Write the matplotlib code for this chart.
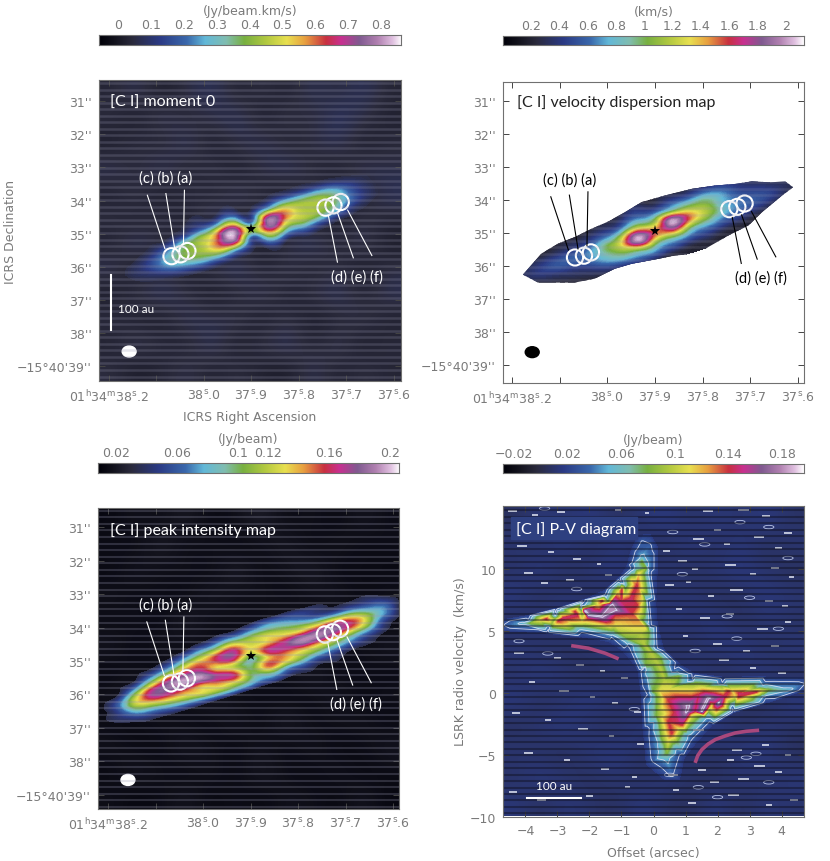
from matplotlib import pyplot as plt
from matplotlib import tri
from matplotlib.colors import LinearSegmentedColormap, Normalize
from matplotlib.patches import Ellipse, Polygon, Rectangle
import numpy as np

W, H = 830, 862
GREY = '#7a7a7a'
plt.rcParams.update({'font.family': 'DejaVu Sans', 'font.size': 9, 'mathtext.default': 'regular',
                     'axes.edgecolor': '#707070', 'text.color': GREY, 'xtick.labelcolor': GREY,
                     'ytick.labelcolor': GREY})

# colour scale
stops = [(0, '#000008'), (.05, '#12121c'), (.11, '#2a2a3c'), (.2, '#2b3a84'), (.29, '#3a68ac'),
         (.35, '#62b8d8'), (.42, '#80bdb0'), (.48, '#78b040'), (.55, '#b0c840'), (.62, '#e8e050'),
         (.68, '#e8a040'), (.75, '#c83040'), (.8, '#c83090'), (.86, '#805a90'), (.92, '#b080b0'),
         (.97, '#e0c0e0'), (1, '#ffffff')]
cmap = LinearSegmentedColormap.from_list('casa_rainbow', stops, N=512)

# disk frame: s along the disk (arcsec), t across it
disk_slope = -0.31
disk_s = np.arange(-4.5, 4.6, 0.5)
disk_t = np.arange(-1.0, 1.01, 0.2)

moment0 = np.array([
    [.03, .03, .03, .03, .03, .03, .03, .03, .03, .03, .03, .03, .03, .03, .03, .03, .03, .03, .03],
    [.03, .03, .03, .03, .04, .05, .06, .06, .05, .04, .06, .07, .07, .06, .05, .04, .03, .03, .03],
    [.03, .03, .03, .04, .05, .07, .11, .14, .13, .06, .14, .20, .18, .17, .12, .07, .05, .03, .03],
    [.03, .03, .04, .06, .08, .15, .24, .34, .35, .12, .38, .42, .38, .36, .27, .13, .06, .03, .03],
    [.03, .03, .05, .09, .18, .32, .42, .58, .66, .20, .70, .58, .45, .44, .36, .18, .08, .04, .03],
    [.03, .04, .07, .14, .27, .38, .45, .62, .80, .40, .74, .58, .47, .43, .36, .20, .09, .04, .03],
    [.03, .04, .08, .15, .28, .38, .43, .58, .70, .22, .58, .46, .42, .38, .28, .14, .07, .04, .03],
    [.03, .03, .06, .10, .20, .28, .34, .40, .38, .13, .32, .28, .25, .20, .13, .08, .05, .03, .03],
    [.03, .03, .04, .06, .09, .14, .18, .18, .14, .07, .12, .11, .10, .08, .05, .04, .03, .03, .03],
    [.03, .03, .03, .03, .04, .05, .06, .06, .05, .04, .04, .04, .03, .03, .03, .03, .03, .03, .03],
    [.03, .03, .03, .03, .03, .03, .03, .03, .03, .03, .03, .03, .03, .03, .03, .03, .03, .03, .03]])

dispersion = np.array([
    [.2, .2, .2, .2, .2, .2, .2, .2, .25, .25, .25, .25, .2, .2, .2, .2, .2, .2, .2],
    [.2, .2, .2, .2, .2, .2, .25, .3, .4, .3, .4, .4, .45, .4, .3, .25, .2, .2, .2],
    [.2, .2, .2, .2, .2, .25, .3, .4, .55, .5, .65, .7, .75, .6, .4, .3, .25, .2, .2],
    [.2, .2, .2, .25, .3, .35, .45, .6, .85, .9, 1.1, 1.05, 1.0, .75, .5, .4, .3, .25, .2],
    [.2, .25, .3, .35, .4, .5, .7, 1.0, 1.35, 1.2, 1.9, 1.45, 1.15, .8, .6, .5, .4, .3, .2],
    [.25, .3, .4, .5, .55, .65, .95, 1.3, 1.95, 1.5, 1.9, 1.5, 1.15, .85, .65, .55, .45, .3, .2],
    [.2, .3, .4, .5, .55, .65, .9, 1.2, 1.85, 1.4, 1.4, 1.1, .9, .7, .55, .45, .35, .25, .2],
    [.2, .25, .3, .35, .4, .5, .75, .95, 1.1, 1.0, .85, .75, .6, .5, .4, .3, .25, .2, .2],
    [.2, .2, .2, .25, .3, .35, .5, .65, .7, .7, .55, .45, .4, .3, .25, .2, .2, .2, .2],
    [.2, .2, .2, .2, .2, .25, .3, .35, .4, .4, .3, .25, .25, .2, .2, .2, .2, .2, .2],
    [.2, .2, .2, .2, .2, .2, .2, .2, .25, .25, .2, .2, .2, .2, .2, .2, .2, .2, .2]])

peak = np.array([
    [.025, .025, .025, .025, .025, .025, .025, .025, .025, .03, .03, .03, .025, .025, .025, .025, .025, .025, .025],
    [.025, .025, .025, .025, .025, .03, .04, .05, .05, .06, .07, .06, .05, .04, .03, .03, .03, .03, .025],
    [.025, .025, .03, .03, .04, .06, .08, .09, .10, .10, .10, .09, .07, .05, .04, .04, .04, .03, .025],
    [.025, .03, .03, .05, .07, .10, .12, .14, .15, .12, .13, .12, .11, .10, .09, .08, .06, .05, .03],
    [.03, .03, .05, .09, .12, .14, .15, .16, .17, .13, .14, .15, .15, .155, .16, .14, .10, .07, .03],
    [.03, .04, .09, .14, .17, .18, .17, .13, .14, .10, .16, .17, .19, .19, .18, .16, .12, .07, .03],
    [.03, .06, .12, .17, .18, .19, .19, .16, .12, .09, .13, .15, .15, .15, .14, .12, .10, .05, .03],
    [.03, .05, .11, .14, .155, .15, .14, .16, .16, .10, .15, .14, .12, .11, .10, .08, .06, .04, .03],
    [.03, .04, .07, .09, .11, .12, .13, .13, .13, .10, .11, .10, .09, .07, .06, .05, .04, .03, .03],
    [.025, .03, .04, .05, .06, .07, .08, .09, .09, .08, .07, .06, .05, .04, .04, .03, .03, .03, .025],
    [.025, .025, .025, .03, .03, .03, .03, .03, .03, .03, .03, .03, .03, .03, .03, .025, .025, .025, .025]])

# blotchy noise outside the disk
noise_moment = np.array([
    [.03, .07, .01, .05, .08, .02, .05, .02, .07, .04, .08, .03],
    [.05, .01, .07, .03, .05, .08, .01, .06, .03, .09, .05, .02],
    [.01, .05, .02, .08, .01, .05, .07, .02, .05, .07, .01, .04],
    [.07, .03, .08, .02, .06, .01, .05, .08, .03, .02, .07, .05],
    [.02, .06, .01, .05, .02, .07, .03, .01, .06, .04, .02, .08],
    [.05, .02, .05, .01, .08, .02, .05, .07, .02, .01, .05, .03],
    [.02, .08, .03, .06, .02, .05, .01, .04, .08, .03, .07, .01],
    [.07, .01, .05, .02, .05, .08, .02, .06, .02, .05, .01, .05],
    [.01, .05, .08, .04, .01, .03, .07, .02, .05, .08, .02, .07],
    [.05, .02, .01, .07, .05, .06, .01, .05, .01, .03, .06, .02],
    [.02, .07, .04, .02, .08, .01, .05, .08, .02, .07, .01, .04],
    [.05, .01, .03, .06, .02, .05, .02, .01, .07, .02, .05, .03]])

noise_peak = np.array([
    [.012, .018, .014, .022, .012, .016, .024, .013, .017, .012, .02, .014],
    [.016, .012, .024, .013, .018, .012, .015, .022, .012, .019, .013, .016],
    [.012, .02, .014, .017, .012, .025, .013, .017, .024, .012, .015, .012],
    [.018, .013, .016, .012, .022, .014, .018, .012, .016, .02, .012, .018],
    [.013, .017, .012, .024, .013, .017, .012, .022, .014, .013, .018, .012],
    [.02, .012, .018, .014, .016, .012, .02, .014, .012, .017, .014, .02],
    [.012, .016, .013, .02, .012, .018, .013, .017, .022, .012, .016, .013],
    [.017, .022, .012, .016, .024, .013, .016, .012, .014, .02, .012, .017],
    [.013, .012, .018, .013, .012, .02, .012, .024, .013, .016, .018, .012],
    [.018, .014, .012, .022, .016, .013, .018, .012, .02, .012, .014, .02],
    [.012, .02, .016, .012, .018, .012, .022, .014, .012, .018, .012, .014],
    [.016, .012, .014, .02, .012, .016, .012, .018, .016, .012, .02, .012]])

noise_pv = np.array([
    [.006, .014, .010, .016, .006, .012, .016, .008, .014, .010, .016, .008],
    [.012, .008, .016, .006, .014, .010, .006, .016, .008, .014, .006, .012],
    [.008, .016, .006, .012, .016, .008, .014, .006, .012, .016, .010, .006],
    [.016, .006, .012, .008, .006, .016, .008, .014, .006, .008, .016, .012],
    [.006, .012, .016, .014, .010, .006, .016, .010, .016, .006, .012, .008],
    [.014, .008, .006, .010, .016, .012, .006, .008, .012, .016, .008, .014],
    [.008, .016, .012, .006, .008, .014, .012, .016, .006, .010, .014, .006],
    [.016, .006, .010, .016, .012, .006, .016, .006, .014, .008, .006, .016],
    [.006, .012, .016, .008, .006, .016, .008, .012, .016, .006, .012, .008],
    [.012, .008, .006, .014, .016, .010, .006, .014, .008, .014, .016, .006],
    [.008, .016, .010, .006, .012, .006, .014, .008, .006, .012, .008, .014],
    [.014, .006, .014, .010, .006, .016, .008, .006, .016, .006, .014, .010]])

# observed edge of the masked dispersion map, offsets from the star
mask_x = [-3.98, -3.78, -3.42, -2.92, -2.42, -1.91, -1.41, -.91, -.40, .30, 1.11, 1.81, 2.42, 2.92, 3.42,
          3.93, 4.16, 3.83, 3.22, 2.82, 2.22, 1.61, 1.31, .60, 0, -.70, -1.21, -1.81, -2.42, -3.52]
mask_y = [1.33, 1.10, .69, .39, .19, -.06, -.28, -.56, -.87, -1.07, -1.27, -1.37, -1.42, -1.50, -1.47,
          -1.49, -1.32, -1.07, -.56, -.16, .14, .49, .69, .75, .87, 1.00, 1.15, 1.45, 1.57, 1.57]

# aperture circles and their leaders, offsets from the star
circle_x = [-2.41, -2.14, -1.93, 2.24, 2.48, 2.70]
circle_y = [.81, .755, .655, -.655, -.725, -.826]
leader_x0 = [-3.14, -2.58, -2.02, 2.33, 2.61, 2.91]
leader_y0 = [-1.03, -1.08, -1.18, -.40, -.48, -.58]
leader_x1 = [-2.61, -2.32, -2.05, 2.60, 3.08, 3.64]
leader_y1 = [.58, .55, .45, .99, .86, .79]

# P-V diagram, contours in Jy/beam as (offset, velocity) outlines, then ridge points along the emission
pv_levels = [.015, .03, .05, .08, .11, .11, .14, .14, .18, .18, .095, .145, .145]
pv_x = [
    [-4.72, -3.90, -3.05, -2.20, -1.50, -1.10, -.85, -.70, -.50, -.10, .15, .15, .10, .15, .35, .80, 1.30, 2.20, 3.50,
     4.72, 4.72, 3.50, 2.50, 1.85, 1.40, 1.00, .85, .30, -.25, -.35, -.40, -.50, -1.00, -1.40, -2.30, -3.30, -4.72],
    [-4.64, -3.91, -3.07, -2.24, -1.51, -.99, -.68, -.47, -.36, -.10, -.10, -.16, -.10, .10, .63, 1.20, 2.14, 3.49,
     4.69, 3.49, 2.45, 1.72, 1.20, .78, .57, .31, 0, -.10, -.16, -.26, -.78, -1.30, -2.24, -3.28],
    [-4.10, -3.07, -2.24, -1.46, -.89, -.57, -.36, -.21, -.21, -.10, .16, .73, 1.25, 2.14, 3.39, 4.25, 3.39, 2.45,
     1.61, 1.04, .68, .42, .21, .05, -.05, -.21, -.78, -1.30, -2.24, -3.28],
    [-3.85, -3.07, -2.24, -1.41, -.89, -.57, -.36, -.24, -.26, -.16, .21, .78, 1.30, 2.14, 3.60, 2.55, 1.72, 1.09,
     .73, .42, .26, .10, 0, -.21, -.78, -1.30, -2.24, -3.18],
    [-3.55, -2.55, -1.72, -1.09, -.68, -.45, -.36, -.26, -.57, -1.20, -2.24, -3.07],
    [3.38, 2.45, 1.51, .47, .21, .31, .47, .78, 1.20, 1.82, 2.55],
    [-3.35, -2.45, -1.61, -.99, -.52, -.52, -.68, -1.20, -2.03, -2.97],
    [3.20, 2.34, 1.41, .47, .47, .57, .89, 1.30, 1.93, 2.66],
    [-2.14, -1.30, -1.20, -1.61, -2.03],
    [1.09, 1.72, 2.03, 1.51, 1.04],
    [-.40, -.30, -.10, .10, .25, .35],
    [-2.80, -2.40, -1.00, -.70],
    [.70, .80, 2.20, 2.70]]
pv_v = [
    [5.95, 6.30, 6.85, 7.55, 8.40, 9.30, 10.30, 11.70, 12.80, 12.90, 11.80, 9.80, 7.40, 5.50, 3.50, 2.40, 1.60, 1.30,
     1.35, 1.30, .20, -.85, -1.60, -2.60, -3.90, -5.20, -7.00, -7.00, -5.80, -2.90, -.20, 1.80, 3.40, 4.10, 4.50,
     4.80, 5.00],
    [5.50, 5.90, 6.43, 7.10, 7.91, 8.98, 10.05, 11.66, 12.20, 11.93, 9.79, 7.37, 5.50, 3.62, 1.88, 1.07, .80, .88,
     .72, -.40, -1.21, -2.28, -3.62, -4.96, -6.70, -6.03, -5.50, -2.82, -.13, 2.01, 3.89, 4.56, 4.96, 5.23],
    [5.63, 6.17, 6.84, 7.64, 8.71, 10.05, 10.99, 10.32, 7.37, 5.23, 3.35, 1.61, .94, .67, .54, .27, -.27, -.94,
     -2.01, -3.35, -4.42, -5.36, -4.42, -2.28, -.13, 1.74, 4.02, 4.75, 5.17, 5.44],
    [5.63, 5.98, 6.57, 7.37, 8.31, 9.52, 10.59, 10.05, 7.37, 4.96, 2.82, 1.34, .80, .54, .27, -.54, -1.47, -2.68,
     -3.89, -4.83, -3.62, -1.74, .13, 2.28, 4.42, 5.09, 5.44, 5.58],
    [5.88, 6.43, 7.10, 8.18, 9.12, 9.65, 7.37, 5.23, 5.23, 5.50, 5.71, 5.76],
    [.18, .27, .40, .27, .13, -2.28, -3.75, -2.82, -1.74, -.94, -.27],
    [5.98, 6.57, 7.43, 8.31, 8.71, 7.10, 6.43, 6.30, 6.03, 5.82],
    [.08, .13, -.13, -.54, -2.28, -3.22, -2.55, -1.47, -.80, -.27],
    [6.62, 7.10, 6.70, 6.17, 6.30],
    [-1.07, -.40, -.80, -1.47, -1.47],
    [4.80, 4.00, 3.30, 2.50, 1.80, 1.00],
    [6.05, 6.30, 7.30, 7.60],
    [-1.60, -2.40, -.30, -.05]]

# small white noise peaks in the P-V map
speck_x = [-4.4, -3.7, -2.9, -1.1, -.2, 1.7, 2.8, 3.5, 2.0, 1.4, 2.3, 3.3, 3.9, 4.2, -4.1, -3.2, -2.4, -1.7, .4,
           .9, 1.3, 2.4, 3.1, 3.8, 4.3, -3.9, -3.4, -2.6, -1.4, .5, 1.1, 1.8, 2.6, 3.6, 4.1, .8, 1.6, 2.4, 3.4,
           4.2, 1.0, 2.0, 2.9, 3.8, -4.2, -3.0, -2.3, -1.6, -.9, 2.2, 3.1, 4.0, -3.8, -2.8, -1.9, -1.2, -.5, 1.4,
           2.6, 3.5, -4.3, -3.3, -2.2, -1.3, -.4, .6, 1.5, 2.4, 3.3, 4.2, -3.9, -2.7, -1.5, -.6, .7, 1.9, 2.8,
           3.9, -4.4, -3.5, -2.0, -.8, 1.2, 2.5, 3.6, 4.4]
speck_v = [14.7, 14.4, 14.6, 14.8, 14.5, 14.7, 14.8, 14.3, 13.2, 12.4, 12.0, 12.6, 11.7, 12.9, 11.9, 11.4, 10.8,
           10.4, 11.5, 10.7, 10.0, 10.3, 9.6, 10.1, 9.4, 9.7, 8.9, 9.1, 9.5, 8.7, 9.0, 7.8, 8.3, 7.4, 7.0, 6.8,
           6.1, 6.4, 5.2, 5.7, 4.6, 4.0, 3.4, 3.8, 3.2, 2.8, 2.3, 1.8, 1.2, 2.7, 2.0, 1.6, .9, .2, -.3, -.8, -1.5,
           -3.0, -4.6, -4.2, -1.6, -2.2, -2.9, -3.5, -4.1, -6.6, -6.2, -5.4, -5.9, -5.0, -4.8, -5.4, -6.1, -6.8,
           -7.8, -7.2, -6.9, -6.4, -8.0, -8.6, -8.3, -7.6, -8.9, -8.2, -9.0, -8.6]
speck_w = [.3, .2, .25, .2, .15, .3, .35, .25, .2, .35, .2, .3, .2, .25, .3, .2, .25, .15, .2, .3, .2, .35, .2,
           .25, .15, .3, .2, .25, .2, .3, .15, .2, .4, .25, .2, .2, .3, .25, .35, .2, .15, .3, .2, .25, .3, .2,
           .25, .15, .2, .3, .2, .25, .2, .3, .15, .2, .2, .35, .3, .2, .25, .2, .3, .15, .2, .3, .25, .2, .35,
           .2, .3, .2, .25, .15, .2, .3, .35, .2, .25, .3, .2, .15, .25, .35, .2, .25]
ring_x = [-3.4, -1.6, .6, 1.6, 2.7, 3.6, 4.2, -2.4, .9, 2.3, 3.0, 3.9, -4.2, -3.3, 1.3, 2.6, 1.4, .5, 2.9, 3.6,
          -.6, 2.0, 3.2]
ring_v = [14.9, 13.9, 13.0, 12.0, 13.8, 13.4, 10.9, 8.4, 9.6, 6.2, 7.7, 5.2, 4.2, 3.2, 3.4, 4.4, -7.6, -6.6,
          -5.2, -7.2, -1.3, -8.4, -4.9]

pv_arc_x = [[-2.57, -2.03, -1.51, -1.09], [1.30, 1.38, 1.51, 1.70, 1.93, 2.25, 2.55, 2.90, 3.30]]
pv_arc_v = [[3.83, 3.62, 3.22, 2.76], [-5.63, -5.05, -4.56, -4.12, -3.75, -3.45, -3.22, -3.08, -3.00]]

ra_ticks = [38.2, 38.1, 38.0, 37.9, 37.8, 37.7, 37.6]
ra_labels = ['01$^{h}$34$^{m}$38$^{s}$.2', '', '38$^{s}$.0', '37$^{s}$.9', '37$^{s}$.8', '37$^{s}$.7', '37$^{s}$.6']
dec_ticks = [31, 32, 33, 34, 35, 36, 37, 38, 39]
dec_labels = ["31''", "32''", "33''", "34''", "35''", "36''", "37''", "38''", "\u221215\u00b040'39''"]
cbar_ticks = [[0, .1, .2, .3, .4, .5, .6, .7, .8],
              [.2, .4, .6, .8, 1, 1.2, 1.4, 1.6, 1.8, 2],
              [.02, .06, .1, .12, .16, .2],
              [-.02, .02, .06, .1, .14, .18]]
cbar_labels = [['0', '0.1', '0.2', '0.3', '0.4', '0.5', '0.6', '0.7', '0.8'],
               ['0.2', '0.4', '0.6', '0.8', '1', '1.2', '1.4', '1.6', '1.8', '2'],
               ['0.02', '0.06', '0.1', '0.12', '0.16', '0.2'],
               ['\u22120.02', '0.02', '0.06', '0.1', '0.14', '0.18']]
cbar_range = [(-.0577, .86), (.003, 2.127), (.008, .2056), (-.0282, .1966)]
cbar_units = ['(Jy/beam.km/s)', '(km/s)', '(Jy/beam)', '(Jy/beam)']


def axes_px(fig, left, top, right, bottom):
    return fig.add_axes([left / W, 1 - bottom / H, (right - left) / W, (bottom - top) / H])


def colorbar(fig, box, idx):
    cax = axes_px(fig, *box)
    lo, hi = cbar_range[idx]
    cax.imshow(np.linspace(0, 1, 512)[None, :], cmap=cmap, aspect='auto', extent=(lo, hi, 0, 1))
    cax.set_yticks([])
    cax.xaxis.tick_top()
    cax.set_xticks(cbar_ticks[idx], cbar_labels[idx])
    cax.tick_params(axis='x', length=0, pad=3, labelsize=9)
    cax.xaxis.set_label_position('top')
    cax.set_xlabel(cbar_units[idx], color=GREY, labelpad=3, fontsize=9)
    return cax


def sky_axes(fig, box, xlim, ylim):
    ax = axes_px(fig, *box)
    ax.set_xlim(xlim)
    ax.set_ylim(ylim)
    ax.set_xticks([(37.9 - r) * 14.35 for r in ra_ticks], ra_labels)
    ax.set_yticks(dec_ticks, dec_labels)
    ax.tick_params(direction='in', length=4, width=.7, color='#444444', top=True, right=True, labelsize=9, pad=5)
    return ax


def draw_disk(ax, table, norm, star, low, extend='max'):
    s, t = np.meshgrid(disk_s, disk_t)
    mesh = tri.Triangulation(s.ravel(), (star + disk_slope * s + t).ravel())
    fine, values = tri.UniformTriRefiner(mesh).refine_field(table.ravel(), subdiv=3)
    levels = np.linspace(low, norm.vmax, 110)
    return ax.tricontourf(fine, values, levels=levels, cmap=cmap, norm=norm, extend=extend)


def stripes(ax, lo, hi, step, color, lw, alpha):
    return ax.hlines(np.arange(lo, hi, step), *ax.get_xlim(), color=color, lw=lw, alpha=alpha)


def annotate(ax, star, color):
    for x0, y0, x1, y1 in zip(leader_x0, leader_y0, leader_x1, leader_y1):
        ax.plot([x0, x1], [star + y0, star + y1], color=color, lw=.8)
    for x, y in zip(circle_x, circle_y):
        ax.add_patch(Ellipse((x, star + y), .49, .49, fill=False, ec='white', lw=1.5))
    ax.plot(0, star, marker='*', ms=8, color='black', mew=0)
    ax.text(-2.58, star - 1.56, '(c) (b) (a)', color=color, family='Lato', fontsize=10.5, ha='center', va='center')
    ax.text(3.18, star + 1.42, '(d) (e) (f)', color=color, family='Lato', fontsize=10.5, ha='center', va='center')


fig = plt.figure(figsize=(W / 100, H / 100), dpi=100)

# moment 0
colorbar(fig, (99, 36, 401, 46), 0)
norm = Normalize(*cbar_range[0])
ax = sky_axes(fig, (99, 81, 401, 382), (-4.60, 4.52), (39.45, 30.36))
xl, yl = ax.get_xlim(), ax.get_ylim()
ax.imshow(noise_moment, cmap=cmap, norm=norm, aspect='auto', interpolation='bicubic', extent=(*xl, *yl), origin='upper')
draw_disk(ax, moment0, norm, 34.87, .055)
ax.set_xlim(xl)
ax.set_ylim(yl)
stripes(ax, 30.45, 39.45, .197, '#9a9ab4', 1.8, .24)
annotate(ax, 34.87, 'white')
ax.plot([-4.25, -4.25], [36.26, 37.92], color='white', lw=1.5)
ax.text(-3.48, 37.25, '100 au', color='white', family='Lato', fontsize=8.5, ha='center', va='center')
ax.add_patch(Ellipse((-3.69, 38.56), .42, .33, color='white'))
ax.text(-4.28, 31.02, '[C I] moment 0', color='white', family='Lato', fontsize=11.5, va='center')

# velocity dispersion
colorbar(fig, (503, 37, 804, 46), 1)
norm = Normalize(*cbar_range[1])
ax = sky_axes(fig, (503, 83, 804, 384), (-4.58, 4.49), (39.545, 30.42))
xl, yl = ax.get_xlim(), ax.get_ylim()
outline = Polygon(np.column_stack([mask_x, 34.93 + np.array(mask_y)]), transform=ax.transData, fc='none', ec='none')
ax.add_patch(outline)
im = draw_disk(ax, dispersion, norm, 34.93, .05, extend='both')
im.set_clip_path(outline)
ax.set_xlim(xl)
ax.set_ylim(yl)
bands = stripes(ax, 30.5, 39.5, .197, '#9a9ab4', 1.8, .18)
bands.set_clip_path(outline)
annotate(ax, 34.93, 'black')
ax.add_patch(Ellipse((-3.70, 38.61), .42, .33, color='black'))
ax.text(-4.16, 31.02, '[C I] velocity dispersion map', color='#222222', family='Lato', fontsize=11.5, va='center')

# peak intensity
colorbar(fig, (97.5, 464, 399, 474), 2)
norm = Normalize(*cbar_range[2])
ax = sky_axes(fig, (97.5, 509, 399, 810), (-4.63, 4.48), (39.43, 30.42))
xl, yl = ax.get_xlim(), ax.get_ylim()
ax.imshow(noise_peak, cmap=cmap, norm=norm, aspect='auto', interpolation='bicubic', extent=(*xl, *yl), origin='upper')
draw_disk(ax, peak, norm, 34.86, .033)
ax.set_xlim(xl)
ax.set_ylim(yl)
stripes(ax, 30.5, 39.45, .197, '#9a9ab4', 1.5, .26)
annotate(ax, 34.86, 'white')
ax.add_patch(Ellipse((-3.71, 38.56), .42, .33, color='white'))
ax.text(-4.24, 31.06, '[C I] peak intensity map', color='white', family='Lato', fontsize=11.5, va='center')

# P-V diagram
colorbar(fig, (503, 465, 804, 474), 3)
norm = Normalize(*cbar_range[3])
ax = axes_px(fig, 503, 507, 804, 818)
ax.set_xlim(-4.70, 4.70)
ax.set_ylim(-9.9, 15.1)
ax.imshow(noise_pv, cmap=cmap, norm=norm, aspect='auto', interpolation='bicubic', extent=(-4.70, 4.70, -9.9, 15.1),
          origin='upper')
# every outline point carries its level, background just outside the lowest one
pts_x = np.concatenate(pv_x)
pts_v = np.concatenate(pv_v)
pts_z = np.concatenate([np.full(len(x), lev) for x, lev in zip(pv_x, pv_levels)])
# triangles picked in screen proportions, velocity axis is much more compressed
faces = tri.Triangulation(pts_x, pts_v * 0.39).triangles
mesh = tri.Triangulation(pts_x, pts_v, triangles=faces)
ax.tricontourf(mesh, pts_z, levels=np.linspace(.017, .181, 90), cmap=cmap, norm=norm)
ax.tricontour(mesh, pts_z, levels=[.028, .045, .175], colors='#d4daf0', linewidths=.6)
ax.hlines(speck_v, np.array(speck_x) - np.array(speck_w) / 2, np.array(speck_x) + np.array(speck_w) / 2,
          color='#e8ecf8', lw=1.1)
for x, v in zip(ring_x, ring_v):
    ax.add_patch(Ellipse((x, v), .32, .28, fill=False, ec='#b8c4e8', lw=.6))
stripes(ax, -9.7, 15.1, .52, '#0c0c18', 1.5, .42)
for x, v in zip(pv_arc_x, pv_arc_v):
    ax.plot(x, v, color='#a8487c', lw=2.6, solid_capstyle='butt')
ax.add_patch(Rectangle((-4.45, 12.4), 3.94, 1.85, color='#2e4080', zorder=3))
ax.text(-4.28, 13.3, '[C I] P-V diagram', color='white', family='Lato', fontsize=11.5, va='center', zorder=4)
ax.plot([-3.96, -2.27], [-8.47, -8.47], color='white', lw=1.5)
ax.text(-3.09, -7.45, '100 au', color='white', family='Lato', fontsize=8.5, ha='center', va='center')
ax.set_xticks([-4, -3, -2, -1, 0, 1, 2, 3, 4], ['\u22124', '\u22123', '\u22122', '\u22121', '0', '1', '2', '3', '4'])
ax.set_yticks([-10, -5, 0, 5, 10], ['\u221210', '\u22125', '0', '5', '10'])
ax.tick_params(direction='in', length=4, width=.7, color='#444444', top=True, right=True, labelsize=9, pad=5)

fig.text(250 / W, 1 - 418 / H, 'ICRS Right Ascension', ha='center', va='center', color=GREY, fontsize=9)
fig.text(11 / W, 1 - 232 / H, 'ICRS Declination', ha='center', va='center', rotation=90, color=GREY, fontsize=9)
fig.text(653 / W, 1 - 854 / H, 'Offset (arcsec)', ha='center', va='center', color=GREY, fontsize=9)
fig.text(460 / W, 1 - 662 / H, 'LSRK radio velocity  (km/s)', ha='center', va='center', rotation=90, color=GREY,
         fontsize=9)

plt.savefig('out.png', dpi=100)
